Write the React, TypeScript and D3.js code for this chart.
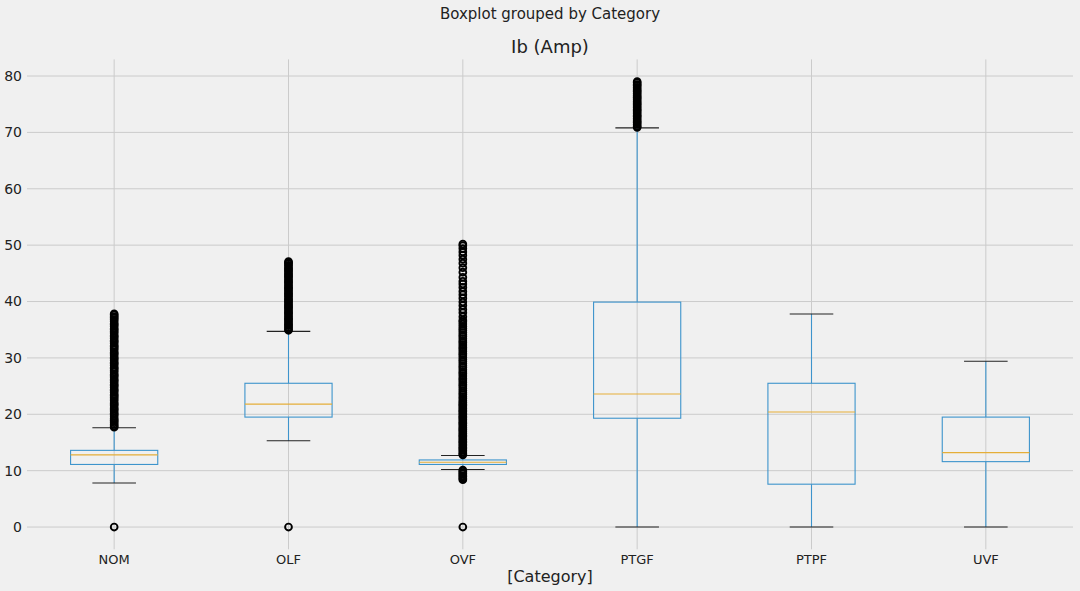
import React, { useRef, useEffect } from 'react'
import * as d3 from 'd3'

// categories (last two labels are hidden under a watermark in the source, best guess)
const categories = ['NOM', 'OLF', 'OVF', 'PTGF', 'PTPF', 'UVF']

// box stats: [lower whisker, q1, median, q3, upper whisker]
const boxStats: [number, number, number, number, number][] = [
  [7.8, 11.1, 12.8, 13.6, 17.6],
  [15.3, 19.5, 21.8, 25.5, 34.7],
  [10.2, 11.1, 11.5, 11.9, 12.7],
  [0.0, 19.3, 23.6, 39.9, 70.8],
  [0.0, 7.6, 20.4, 25.5, 37.8],
  [0.0, 11.6, 13.2, 19.5, 29.4],
]

// fliers (dense bands drawn as close points)
const fliersNOM = [
  0.0, 17.7, 17.9, 18.2, 18.5, 18.8, 19.0, 19.3, 19.7, 20.0, 20.2, 20.6, 20.9, 21.1, 21.5, 21.8,
  22.0, 22.4, 22.7, 23.0, 23.3, 23.5, 23.9, 24.2, 24.4, 24.8, 25.1, 25.3, 25.7, 26.0, 26.2, 26.6,
  26.9, 27.1, 27.5, 27.8, 28.1, 28.3, 28.7, 29.0, 29.2, 29.6, 29.9, 30.1, 30.5, 30.8, 31.0, 31.4,
  31.7, 32.0, 32.2, 32.6, 32.9, 33.1, 33.5, 33.8, 34.0, 34.4, 34.7, 35.0, 35.2, 35.6, 35.9, 36.1,
  36.5, 36.8, 37.1, 37.3, 37.6, 37.8,
]
const fliersOLF = [
  0.0, 34.9, 35.1, 35.4, 35.7, 35.9, 36.2, 36.5, 36.8, 37.0, 37.3, 37.6, 37.9, 38.1, 38.4, 38.7,
  39.0, 39.2, 39.5, 39.8, 40.1, 40.3, 40.6, 40.9, 41.2, 41.4, 41.7, 42.0, 42.3, 42.5, 42.8, 43.1,
  43.4, 43.6, 43.9, 44.2, 44.5, 44.7, 45.0, 45.3, 45.6, 45.8, 46.1, 46.4, 46.7, 46.9, 47.1,
]
const fliersOVF = [
  0.0, 8.4, 8.6, 8.9, 9.1, 9.4, 9.6, 9.9, 10.1,
  12.8, 13.0, 13.3, 13.6, 13.9, 14.1, 14.4, 14.7, 15.0, 15.2, 15.5, 15.8, 16.1, 16.3, 16.6, 16.9,
  17.2, 17.4, 17.7, 18.0, 18.3, 18.5, 18.8, 19.1, 19.4, 19.6, 19.9, 20.2, 20.5, 20.7, 21.0, 21.3,
  21.6, 21.8, 22.1, 22.4, 22.8, 23.1, 23.5, 23.8, 24.2, 24.6, 25.0, 25.3, 25.7, 26.1, 26.4, 26.8,
  27.2, 27.5, 27.9, 28.3, 28.6, 29.0, 29.4, 29.7, 30.1, 30.5, 30.8, 31.2, 31.6, 31.9, 32.3, 32.7,
  33.0, 33.4, 33.8, 34.1, 34.5, 34.9, 35.2, 35.6, 36.0, 36.4, 36.7,
  37.3, 38.0, 38.6, 39.3, 39.9, 40.6, 41.2, 41.8, 42.5, 43.1, 43.6, 44.3, 45.2, 46.0, 46.8, 47.5,
  48.2, 48.8, 49.4, 49.9, 50.2,
]
const fliersPTGF = [
  70.9, 71.1, 71.4, 71.7, 71.9, 72.2, 72.5, 72.8, 73.0, 73.3, 73.6, 73.9, 74.1, 74.4, 74.7, 75.0,
  75.2, 75.5, 75.8, 76.1, 76.3, 76.6, 76.9, 77.2, 77.4, 77.7, 78.0, 78.3, 78.5, 78.8, 79.0,
]
const fliers: number[][] = [fliersNOM, fliersOLF, fliersOVF, fliersPTGF, [], []]

const yTicks = [0, 10, 20, 30, 40, 50, 60, 70, 80]

export default function App() {
  const svgRef = useRef<SVGSVGElement>(null)
  useEffect(() => {
    if (!svgRef.current) return
    const W = 1080
    const H = 591
    const svg = d3.select(svgRef.current)
    svg.selectAll('*').remove()
    const font = '"DejaVu Sans", sans-serif'

    svg.append('rect').attr('width', W).attr('height', H).attr('fill', '#f0f0f0')

    // plot area
    const [left, right, top, bottom] = [27, 1073, 59.4, 549.3]
    const x = d3.scaleLinear().domain([0.5, categories.length + 0.5]).range([left, right])
    const y = d3.scaleLinear().domain([-3.95, 82.95]).range([bottom, top])

    const g = svg.append('g')

    // grid
    g.selectAll('.hgrid')
      .data(yTicks)
      .enter()
      .append('line')
      .attr('x1', left)
      .attr('x2', right)
      .attr('y1', d => y(d))
      .attr('y2', d => y(d))
      .attr('stroke', '#cbcbcb')
      .attr('stroke-width', 1)
    g.selectAll('.vgrid')
      .data(categories)
      .enter()
      .append('line')
      .attr('x1', (_, i) => x(i + 1))
      .attr('x2', (_, i) => x(i + 1))
      .attr('y1', top)
      .attr('y2', bottom)
      .attr('stroke', '#cbcbcb')
      .attr('stroke-width', 1)

    // y tick labels
    g.selectAll('.ylab')
      .data(yTicks)
      .enter()
      .append('text')
      .attr('x', left - 5)
      .attr('y', d => y(d))
      .attr('dy', '0.35em')
      .attr('text-anchor', 'end')
      .attr('font-family', font)
      .attr('font-size', 14)
      .attr('fill', '#222')
      .text(d => d)

    // x tick labels
    g.selectAll('.xlab')
      .data(categories)
      .enter()
      .append('text')
      .attr('x', (_, i) => x(i + 1))
      .attr('y', 564)
      .attr('text-anchor', 'middle')
      .attr('font-family', font)
      .attr('font-size', 13)
      .attr('fill', '#222')
      .text(d => d)

    // boxes
    const boxW = x(1.25) - x(1)
    const capW = x(1.125) - x(1)
    const boxColor = '#3d94cc'
    boxStats.forEach((s, i) => {
      const cx = x(i + 1)
      const [lo, q1, med, q3, hi] = s
      const bg = g.append('g')
      // whiskers
      bg.append('line').attr('x1', cx).attr('x2', cx).attr('y1', y(q1)).attr('y2', y(lo))
        .attr('stroke', boxColor).attr('stroke-width', 1.1)
      bg.append('line').attr('x1', cx).attr('x2', cx).attr('y1', y(q3)).attr('y2', y(hi))
        .attr('stroke', boxColor).attr('stroke-width', 1.1)
      // caps
      ;[lo, hi].forEach(v => {
        bg.append('line').attr('x1', cx - capW).attr('x2', cx + capW).attr('y1', y(v)).attr('y2', y(v))
          .attr('stroke', '#222').attr('stroke-width', 1.1)
      })
      // box
      bg.append('rect')
        .attr('x', cx - boxW)
        .attr('y', y(q3))
        .attr('width', boxW * 2)
        .attr('height', y(q1) - y(q3))
        .attr('fill', 'none')
        .attr('stroke', boxColor)
        .attr('stroke-width', 1.1)
      // median
      bg.append('line').attr('x1', cx - boxW).attr('x2', cx + boxW).attr('y1', y(med)).attr('y2', y(med))
        .attr('stroke', '#e5ae38').attr('stroke-width', 1.1)
      // fliers
      bg.selectAll('circle')
        .data(fliers[i])
        .enter()
        .append('circle')
        .attr('cx', cx)
        .attr('cy', d => y(d))
        .attr('r', 3.4)
        .attr('fill', 'none')
        .attr('stroke', '#000')
        .attr('stroke-width', 1.9)
    })

    // titles
    svg.append('text')
      .attr('x', (left + right) / 2)
      .attr('y', 19)
      .attr('text-anchor', 'middle')
      .attr('font-family', font)
      .attr('font-size', 15)
      .attr('fill', '#222')
      .text('Boxplot grouped by Category')
    svg.append('text')
      .attr('x', (left + right) / 2)
      .attr('y', 53)
      .attr('text-anchor', 'middle')
      .attr('font-family', font)
      .attr('font-size', 18)
      .attr('fill', '#222')
      .text('Ib (Amp)')
    svg.append('text')
      .attr('x', (left + right) / 2)
      .attr('y', 582)
      .attr('text-anchor', 'middle')
      .attr('font-family', font)
      .attr('font-size', 16)
      .attr('fill', '#222')
      .text('[Category]')
  }, [])
  return (
    <svg
      ref={svgRef}
      width={1080}
      height={591}
      style={{ position: 'absolute', left: 0, top: 0, display: 'block' }}
    />
  )
}
